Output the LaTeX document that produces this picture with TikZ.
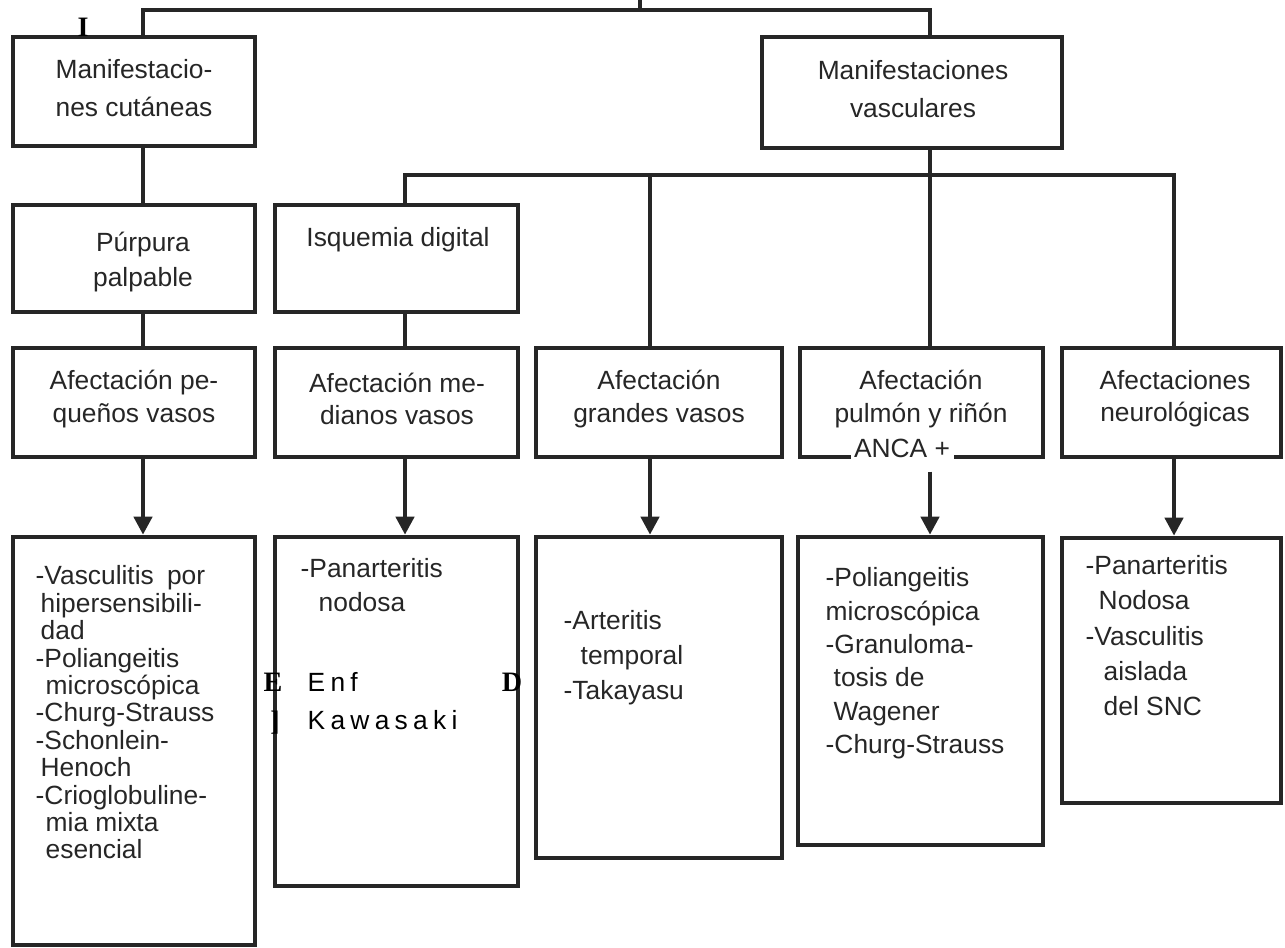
\documentclass[tikz,border=0pt]{standalone}
\usepackage{fontspec}
\setmainfont{Liberation Sans}
\newfontfamily\marcafont{Liberation Serif}
\newfontfamily\espaciada[LetterSpace=20]{Liberation Sans}
\usetikzlibrary{arrows.meta}

\begin{document}
\begin{tikzpicture}[>={Triangle[length=1.8mm,width=1.8mm]},
    caja/.style={draw=black!85, line width=1.3pt, inner sep=0pt},
    linea/.style={draw=black!85, line width=1.2pt},
    texto/.style={text=black!85, inner sep=0pt, align=center, font=\fontsize{7.5}{9.2}\selectfont},
    lista/.style={texto, align=left, anchor=north west},
    marca/.style={inner sep=0pt, font=\marcafont\bfseries\fontsize{8}{8}\selectfont}]
    \useasboundingbox (0,0) rectangle (12.85,-9.47);
    % cajas
    \node[caja, minimum width=2.42cm, minimum height=1.09cm] (cu) at (1.34,-0.915) {};
    \node[caja, minimum width=3.00cm, minimum height=1.11cm] (va) at (9.12,-0.925) {};
    \node[caja, minimum width=2.42cm, minimum height=1.07cm] (pu) at (1.34,-2.585) {};
    \node[caja, minimum width=2.43cm, minimum height=1.07cm] (is) at (3.965,-2.585) {};
    \node[caja, minimum width=2.42cm, minimum height=1.09cm] (pe) at (1.34,-4.025) {};
    \node[caja, minimum width=2.43cm, minimum height=1.09cm] (me) at (3.965,-4.025) {};
    \node[caja, minimum width=2.46cm, minimum height=1.09cm] (gr) at (6.59,-4.025) {};
    \node[caja, minimum width=2.43cm, minimum height=1.09cm] (pr) at (9.215,-4.025) {};
    \node[caja, minimum width=2.19cm, minimum height=1.09cm] (ne) at (11.715,-4.025) {};
    \node[caja, minimum width=2.42cm, minimum height=4.08cm] (lpe) at (1.34,-7.41) {};
    \node[caja, minimum width=2.43cm, minimum height=3.49cm] (lme) at (3.965,-7.115) {};
    \node[caja, minimum width=2.46cm, minimum height=3.21cm] (lgr) at (6.59,-6.975) {};
    \node[caja, minimum width=2.45cm, minimum height=3.08cm] (lpr) at (9.205,-6.91) {};
    \node[caja, minimum width=2.19cm, minimum height=2.65cm] (lne) at (11.715,-6.705) {};
    % textos
    \node[texto, font=\fontsize{7.5}{10.8}\selectfont] (tcu) at (1.34,-0.885) {Manifestacio-\\nes cutáneas};
    \node[texto, font=\fontsize{7.5}{10.8}\selectfont] (tva) at (9.13,-0.89) {Manifestaciones\\vasculares};
    \node[texto, font=\fontsize{7.5}{10}\selectfont] (tpu) at (1.43,-2.62) {Púrpura\\palpable};
    \node[texto] (tis) at (3.98,-2.40) {Isquemia digital};
    \node[texto] (tpe) at (1.34,-3.99) {Afectación pe-\\queños vasos};
    \node[texto] (tme) at (3.97,-3.99) {Afectación me-\\dianos vasos};
    \node[texto] (tgr) at (6.59,-3.99) {Afectación\\grandes vasos};
    \node[texto] (tpr) at (9.21,-3.99) {Afectación\\pulmón y riñón};
    \node[texto, fill=white, inner sep=1pt] (anca) at (9.02,-4.48) {ANCA +};
    \node[texto] (tne) at (11.75,-3.99) {Afectaciones\\neurológicas};
    \node[lista, font=\fontsize{7.5}{7.8}\selectfont] (tlpe) at (0.35,-5.65)
        {-Vasculitis\hspace{0.5em}por\\\hspace*{0.5mm}hipersensibili-\\\hspace*{0.5mm}dad\\-Poliangeitis\\\hspace*{1mm}microscópica\\-Churg-Strauss\\-Schonlein-\\\hspace*{0.5mm}Henoch\\-Crioglobuline-\\\hspace*{1mm}mia mixta\\\hspace*{1mm}esencial};
    \node[lista, font=\fontsize{7.5}{9.6}\selectfont] (tlme) at (3.00,-5.58) {-Panarteritis\\\hspace*{1.8mm}nodosa};
    \node[lista, text=black, font=\espaciada\fontsize{7.5}{10.8}\selectfont] (tenf) at (3.07,-6.72) {Enf\\Kawasaki};
    \node[lista, font=\fontsize{7.5}{9.9}\selectfont] (tlgr) at (5.63,-6.10) {-Arteritis\\\hspace*{1.7mm}temporal\\-Takayasu};
    \node[lista, font=\fontsize{7.5}{9.5}\selectfont] (tlpr) at (8.25,-5.67)
        {-Poliangeitis\\microscópica\\-Granuloma-\\\hspace*{0.8mm}tosis de\\\hspace*{0.8mm}Wagener\\-Churg-Strauss};
    \node[lista, font=\fontsize{7.5}{10}\selectfont] (tlne) at (10.85,-5.55)
        {-Panarteritis\\\hspace*{1.3mm}Nodosa\\-Vasculitis\\\hspace*{1.8mm}aislada\\\hspace*{1.8mm}del SNC};
    % marcas sueltas
    \node[marca] (ma) at (0.83,-0.27) {I};
    \node[marca] (mb) at (2.73,-6.82) {E};
    \node[marca] (mc) at (2.75,-7.23) {]};
    \node[marca] (md) at (5.12,-6.82) {D};
    % conectores
    \coordinate (ta) at (6.40,0);
    \coordinate (ka) at (1.43,-0.10);
    \coordinate (kb) at (9.30,-0.10);
    \coordinate (la) at (4.05,-1.75);
    \coordinate (lc) at (6.50,-1.75);
    \coordinate (lb) at (11.74,-1.75);
    \draw[linea] (ta) -- (ta |- ka);
    \draw[linea] (cu.north -| ka) -- (ka) -- (kb) -- (va.north -| kb);
    \draw[linea] (cu.south -| ka) -- (pu.north -| ka);
    \draw[linea] (pu.south -| ka) -- (pe.north -| ka);
    \draw[linea] (va.south -| kb) -- (pr.north -| kb);
    \draw[linea] (is.north -| la) -- (la) -- (lb) -- (ne.north -| lb);
    \draw[linea] (lc) -- (gr.north -| lc);
    \draw[linea] (is.south -| la) -- (me.north -| la);
    \draw[linea,->] (pe.south -| ka) -- (lpe.north -| ka);
    \draw[linea,->] (me.south -| la) -- (lme.north -| la);
    \draw[linea,->] (gr.south -| lc) -- (lgr.north -| lc);
    \draw[linea,->] ([yshift=-1mm]anca.south -| kb) -- (lpr.north -| kb);
    \draw[linea,->] (ne.south -| lb) -- (lne.north -| lb);
\end{tikzpicture}
\end{document}
